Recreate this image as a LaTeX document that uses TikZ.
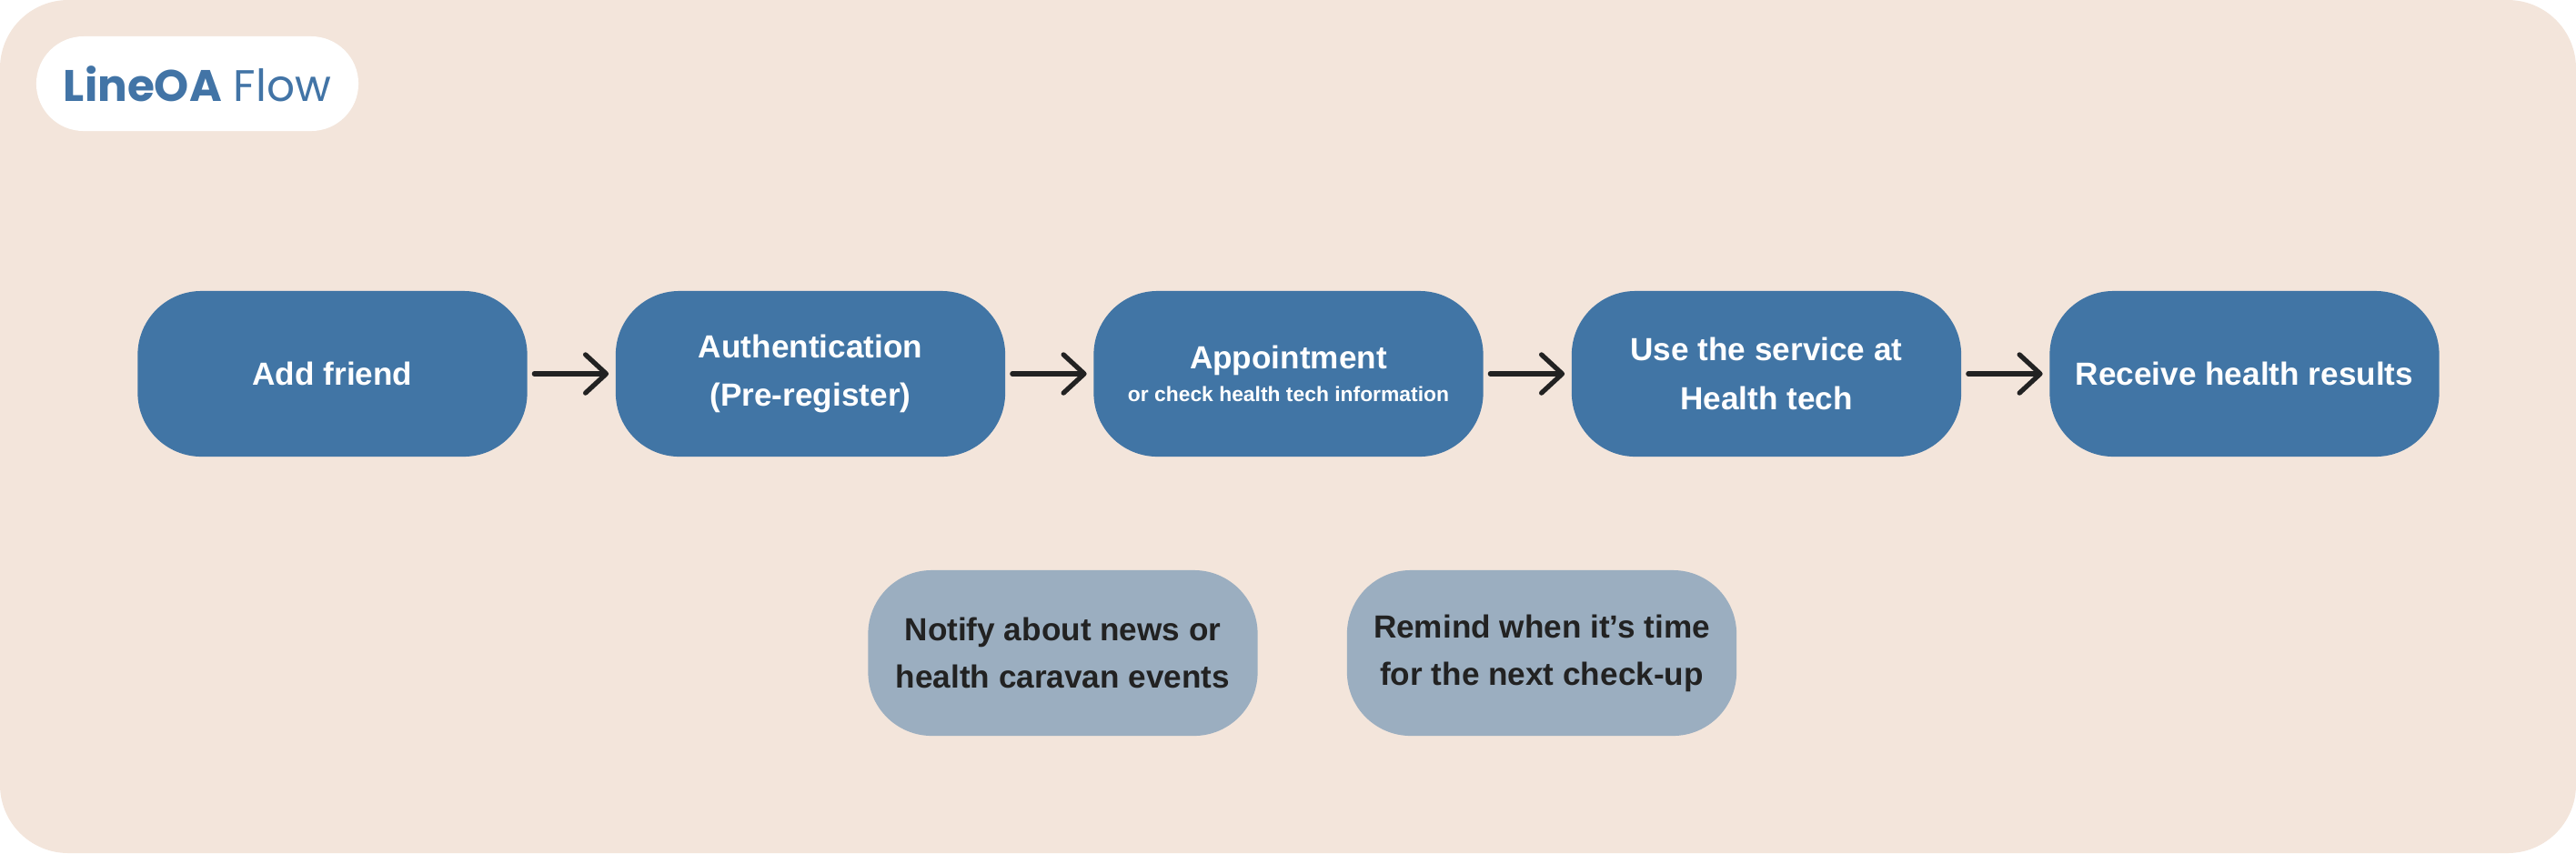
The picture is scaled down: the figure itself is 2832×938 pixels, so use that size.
\documentclass[tikz,border=0pt]{standalone}
\usepackage{fontspec}
\setmainfont{Liberation Sans}
\newfontfamily\popfont{Poppins}
\usetikzlibrary{arrows.meta}
\definecolor{bgc}{HTML}{F3E5DB}
\definecolor{bluec}{HTML}{4175A5}
\definecolor{grayc}{HTML}{9BAEC0}
\definecolor{darkc}{HTML}{222222}
\definecolor{titlec}{HTML}{4274A6}
\tikzset{
  mainbox/.style={fill=bluec, rounded corners=0.7cm, minimum width=4.28cm, minimum height=1.82cm, inner sep=0pt, align=center, text=white, font=\bfseries\fontsize{10}{15.2}\selectfont},
  sidebox/.style={mainbox, fill=grayc, text=darkc, font=\bfseries\fontsize{10}{14.8}\selectfont},
  flowarrow/.style={draw=darkc, line width=1.5pt, line cap=round, shorten <=2pt, shorten >=2pt, -{Straight Barb[length=6.5pt, width=12pt, line width=1.5pt, line cap=round, line join=round]}},
}
\begin{document}
\begin{tikzpicture}[x=0.01cm, y=-0.01cm]
\useasboundingbox (0,0) rectangle (2832,938);
\fill[bgc, rounded corners=0.75cm] (0,0) rectangle (2832,938);
\node[fill=white, rounded corners=0.52cm, minimum width=3.54cm, minimum height=1.04cm, inner sep=0pt, text=titlec, font=\popfont\fontsize{13.8}{16}\selectfont] (title) at (217,92) {\textbf{LineOA} Flow};

\node[mainbox] (b1) at (365.5,411) {Add friend};
\node[mainbox] (b2) at (891,411) {Authentication\\(Pre-register)};
\node[mainbox] (b3) at (1416.5,411) {Appointment\\[-5pt]{\fontsize{6.5}{8}\selectfont or check health tech information}};
\node[mainbox] (b4) at (1942,411) {Use the service at\\Health tech};
\node[mainbox] (b5) at (2467.5,411) {Receive health results};

\node[sidebox] (n1) at (1168.5,718) {Notify about news or\\health caravan events};
\node[sidebox] (n2) at (1695,718) {Remind when it’s time\\for the next check-up};

\foreach \a/\b in {b1/b2, b2/b3, b3/b4, b4/b5}
  \draw[flowarrow] (\a.east) -- (\b.west);
\end{tikzpicture}
\end{document}
